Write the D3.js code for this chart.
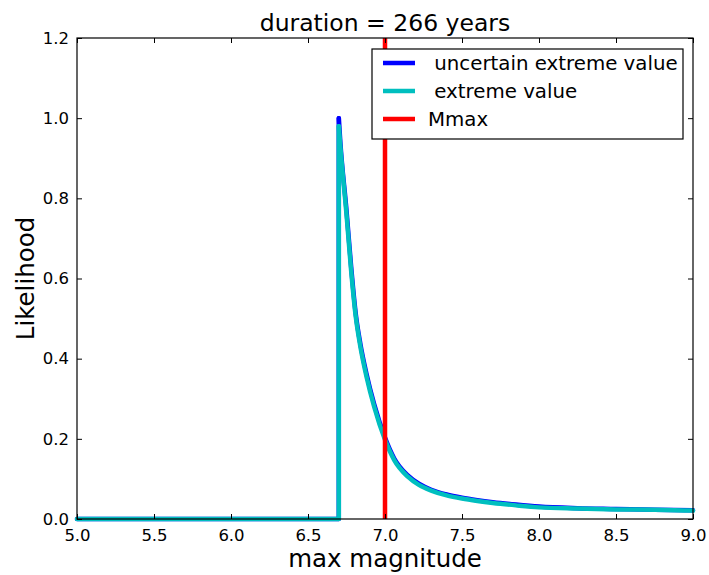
<!DOCTYPE html>
<meta charset="utf-8">
<style>
body { margin: 0; background: #fff; }
text { font-family: "DejaVu Sans", sans-serif; fill: #000; }
</style>
<svg width="709" height="575"></svg>
<script src="https://d3js.org/d3.v7.min.js"></script>
<script>
// magnitude grid and likelihoods
const mag = [5.0, 6.70, 6.70, 6.71, 6.75, 6.78, 6.81, 6.84, 6.88, 6.93, 7.00, 7.06, 7.15, 7.22, 7.30, 7.40, 7.50, 7.60, 7.70, 7.85, 8.00, 8.25, 8.50, 8.75, 9.00];
const uncertainEV = [0, 0, 1.0, 0.94, 0.77, 0.63, 0.512, 0.437, 0.362, 0.286, 0.203, 0.151, 0.108, 0.088, 0.073, 0.061, 0.053, 0.047, 0.042, 0.036, 0.031, 0.027, 0.025, 0.023, 0.022];
const extremeEV = [0, 0, 0.98, 0.93, 0.76, 0.62, 0.505, 0.43, 0.355, 0.28, 0.198, 0.147, 0.105, 0.085, 0.071, 0.059, 0.051, 0.045, 0.040, 0.034, 0.029, 0.026, 0.024, 0.023, 0.021];
const mmax = 7.0;
const xTicks = [5.0, 5.5, 6.0, 6.5, 7.0, 7.5, 8.0, 8.5, 9.0];
const yTicks = [0.0, 0.2, 0.4, 0.6, 0.8, 1.0, 1.2];
const legendLabels = [" uncertain extreme value", " extreme value", "Mmax"];
const colors = ["#0000ff", "#00bfbf", "#ff0000"];

var svg = d3.select("svg"),
    pLeft = 77, pRight = 693, pTop = 38, pBottom = 519;

var x = d3.scaleLinear().domain([5, 9]).range([pLeft, pRight]);
var y = d3.scaleLinear().domain([0, 1.2]).range([pBottom, pTop]);

var lineStraight = d3.line().x(function(d) { return x(d[0]); }).y(function(d) { return y(d[1]); });
var lineSmooth = d3.line().x(function(d) { return x(d[0]); }).y(function(d) { return y(d[1]); }).curve(d3.curveMonotoneX);

var g = svg.append("g");

// each curve: flat part + jump drawn straight, the decay drawn smooth
function drawSeries(vals, color) {
  var pts = mag.map(function(m, i) { return [m, vals[i]]; });
  g.append("path")
      .datum(pts.slice(0, 3))
      .attr("d", lineStraight)
      .attr("fill", "none").attr("stroke", color).attr("stroke-width", 4.5)
      .attr("stroke-linejoin", "round").attr("stroke-linecap", "round");
  g.append("path")
      .datum(pts.slice(2))
      .attr("d", lineSmooth)
      .attr("fill", "none").attr("stroke", color).attr("stroke-width", 4.5)
      .attr("stroke-linejoin", "round").attr("stroke-linecap", "round");
}
drawSeries(uncertainEV, colors[0]);
drawSeries(extremeEV, colors[1]);

g.append("line")
    .attr("x1", x(mmax)).attr("x2", x(mmax))
    .attr("y1", y(0)).attr("y2", y(1.2))
    .attr("stroke", colors[2]).attr("stroke-width", 4.5);

// axes, matplotlib classic: ticks inside on all sides
var bottomAxis = d3.axisBottom(x).tickValues(xTicks).tickFormat(d3.format(".1f")).tickSizeInner(-5).tickSizeOuter(0).tickPadding(10);
var topAxis = d3.axisTop(x).tickValues(xTicks).tickFormat("").tickSizeInner(-5).tickSizeOuter(0);
var leftAxis = d3.axisLeft(y).tickValues(yTicks).tickFormat(d3.format(".1f")).tickSizeInner(-5).tickSizeOuter(0).tickPadding(8);
var rightAxis = d3.axisRight(y).tickValues(yTicks).tickFormat("").tickSizeInner(-5).tickSizeOuter(0);

function styleAxis(sel) {
  sel.select(".domain").remove();
  sel.selectAll("line").attr("stroke", "#000");
  sel.selectAll("text").attr("font-size", 16.5).attr("font-family", "DejaVu Sans").attr("fill", "#111");
}

svg.append("g").attr("transform", "translate(0," + pBottom + ")").call(bottomAxis).call(styleAxis);
svg.append("g").attr("transform", "translate(0," + pTop + ")").call(topAxis).call(styleAxis);
svg.append("g").attr("transform", "translate(" + pLeft + ",0)").call(leftAxis).call(styleAxis);
svg.append("g").attr("transform", "translate(" + pRight + ",0)").call(rightAxis).call(styleAxis);

svg.append("rect")
    .attr("x", pLeft).attr("y", pTop)
    .attr("width", pRight - pLeft).attr("height", pBottom - pTop)
    .attr("fill", "none").attr("stroke", "#000").attr("stroke-width", 1.2);

// legend
var legend = svg.append("g");
legend.append("rect")
    .attr("x", 372).attr("y", 49)
    .attr("width", 311).attr("height", 90)
    .attr("fill", "#fff").attr("stroke", "#000").attr("stroke-width", 1.2);
legendLabels.forEach(function(lab, i) {
  var ly = 63 + i * 28;
  legend.append("line")
    .attr("x1", 383).attr("x2", 415).attr("y1", ly).attr("y2", ly)
    .attr("stroke", colors[i]).attr("stroke-width", 4.5);
  legend.append("text")
    .attr("x", 428).attr("y", ly + 7)
    .attr("font-size", 19.8)
    .attr("xml:space", "preserve")
    .style("white-space", "pre")
    .text(lab);
});

// title and labels
svg.append("text")
    .attr("x", (pLeft + pRight) / 2).attr("y", 31)
    .attr("text-anchor", "middle").attr("font-size", 23.5)
    .text("duration = 266 years");
svg.append("text")
    .attr("x", (pLeft + pRight) / 2).attr("y", 567)
    .attr("text-anchor", "middle").attr("font-size", 24.5)
    .text("max magnitude");
svg.append("text")
    .attr("transform", "translate(34," + (pTop + pBottom) / 2 + ") rotate(-90)")
    .attr("text-anchor", "middle").attr("font-size", 24.5)
    .text("Likelihood");
</script>
